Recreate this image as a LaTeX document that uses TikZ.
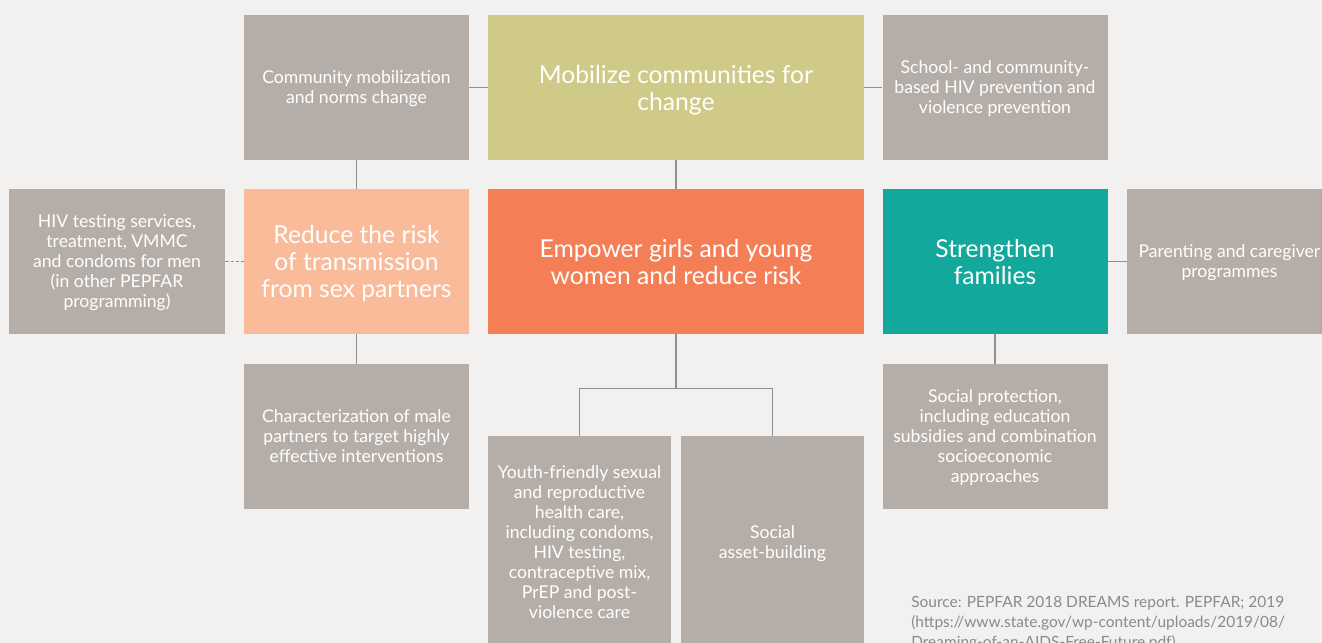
\documentclass[tikz,border=0pt]{standalone}
\usepackage{fontspec}
\setmainfont{Lato}
\usetikzlibrary{calc}
\definecolor{bg}{HTML}{F2F1EF}
\definecolor{boxgrey}{HTML}{B5ADA7}
\definecolor{olive}{HTML}{CFCA87}
\definecolor{peach}{HTML}{F9BB9A}
\definecolor{coral}{HTML}{F47F56}
\definecolor{teal}{HTML}{13A89C}
\definecolor{linegrey}{HTML}{8E9193}
\definecolor{srcgrey}{HTML}{8C8A88}
\tikzset{
  smalltxt/.style={font=\fontsize{13.2}{15}\selectfont},
  bigtxt/.style={font=\fontsize{18.5}{20.25}\selectfont},
  gbox/.style={rectangle, fill=boxgrey, text=white, align=center, inner sep=0pt, text depth=0pt,
    minimum width=168.75pt, minimum height=108.75pt, smalltxt},
  cbox/.style={rectangle, text=white, align=center, inner sep=0pt, text depth=0pt,
    minimum width=168.75pt, minimum height=108.75pt, bigtxt},
  link/.style={draw=linegrey, line width=1.1pt},
  dlink/.style={draw=linegrey, line width=0.9pt, dash pattern=on 2.5pt off 1.5pt},
}
\begin{document}
\begin{tikzpicture}[x=0.75pt,y=-0.75pt]
\useasboundingbox (0,0) rectangle (1322,643);
\fill[bg] (0,0) rectangle (1322,643);
\clip (0,0) rectangle (1322,643);
% top row
\node[gbox] (cm) at (356.5,87.5) {Community mobilization\\and norms change};
\node[cbox, fill=olive, minimum width=282pt] (mob) at (676,87.5) {Mobilize communities for\\change};
\node[gbox] (school) at (995,87.5) {School- and community-\\based HIV prevention and\\violence prevention};
% middle row
\node[gbox, minimum width=162pt] (hiv) at (117,261.5) {HIV testing services,\\treatment, VMMC\\and condoms for men\\(in other PEPFAR\\programming)};
\node[cbox, fill=peach] (reduce) at (356.5,261.5) {Reduce the risk\\of transmission\\from sex partners};
\node[cbox, fill=coral, minimum width=282pt] (emp) at (676,261.5) {Empower girls and young\\women and reduce risk};
\node[cbox, fill=teal] (str) at (995,261.5) {Strengthen\\families};
\node[gbox, minimum width=153.75pt] (par) at (1229.5,261.5) {Parenting and caregiver\\programmes};
% bottom row
\node[gbox] (char) at (356.5,436.5) {Characterization of male\\partners to target highly\\effective interventions};
\node[gbox, minimum width=137.25pt, minimum height=159pt] (youth) at (579.5,542) {Youth-friendly sexual\\and reproductive\\health care,\\including condoms,\\HIV testing,\\contraceptive mix,\\PrEP and post-\\violence care};
\node[gbox, minimum width=137.25pt, minimum height=159pt] (asset) at (772.5,542) {Social\\asset-building};
\node[gbox] (sp) at (995,436.5) {Social protection,\\including education\\subsidies and combination\\socioeconomic\\approaches};
% connectors
\draw[link] (cm.east) -- (mob.west);
\draw[link] (mob.east) -- (school.west);
\draw[link] (cm.south) -- (reduce.north);
\draw[link] (mob.south) -- (emp.north);
\draw[dlink] (hiv.east) -- (reduce.west);
\draw[link] (reduce.south) -- (char.north);
\draw[link] (str.east) -- (par.west);
\draw[link] (str.south) -- (sp.north);
\coordinate (j) at ($(emp.south)+(0,54)$);
\draw[link] (emp.south) -- (j);
\draw[link] (youth.north) |- (j) -| (asset.north);
% source
\node[anchor=north west, align=left, text=srcgrey, inner sep=0pt, font=\fontsize{11.6}{15}\selectfont] (src) at (911,596)
  {Source: PEPFAR 2018 DREAMS report. PEPFAR; 2019\\(https://www.state.gov/wp-content/uploads/2019/08/\\Dreaming-of-an-AIDS-Free-Future.pdf).};
\end{tikzpicture}
\end{document}
